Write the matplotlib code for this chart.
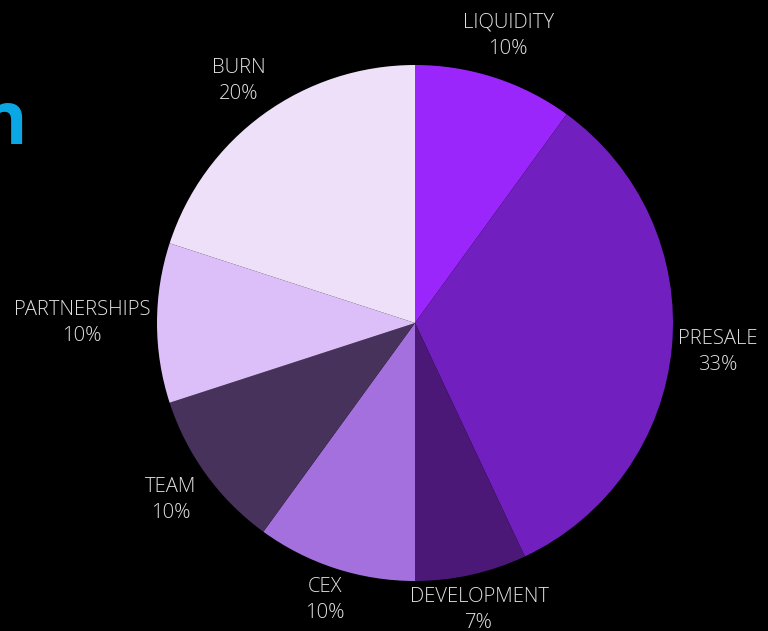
import matplotlib.pyplot as plt
import numpy as np

# token allocation, clockwise from the top
labels = ['LIQUIDITY', 'PRESALE', 'DEVELOPMENT', 'CEX', 'TEAM', 'PARTNERSHIPS', 'BURN']
shares = [10, 33, 7, 10, 10, 10, 20]
colors = ['#9b26fb', '#721fc0', '#4b1878', '#a470dd', '#47325c', '#dcbff8', '#efe0fa']
label_r = [1.17, 1.18, 1.14, 1.13, 1.17, 1.29, 1.16]

TEXT = '#e0e0e0'
BLUE = '#0ba6e4'

plt.rcParams['font.family'] = ['Open Sans', 'DejaVu Sans']

fig = plt.figure(figsize=(7.68, 6.31), dpi=100, facecolor='black')

# heading, mostly off the left edge (only the last letter shows)
fig.text(28 / 768, 1 - 143 / 631, 'Token Distribution', ha='right', va='baseline',
         fontsize=53, fontweight='bold', color=BLUE)

cx, cy, R = 415, 323, 258
ax = fig.add_axes([(cx - R) / 768, (631 - cy - R) / 631, 2 * R / 768, 2 * R / 631])
ax.set_facecolor('black')
wedges, _ = ax.pie(shares, colors=colors, startangle=90, counterclock=False,
                   radius=1, wedgeprops=dict(linewidth=0))
ax.set_xlim(-1, 1)
ax.set_ylim(-1, 1)
ax.set_aspect('equal')
ax.axis('off')

for w, lab, s, r in zip(wedges, labels, shares, label_r):
    ang = np.deg2rad((w.theta1 + w.theta2) / 2)
    ax.text(r * np.cos(ang), r * np.sin(ang), f'{lab}\n{s}%', ha='center', va='center',
            fontsize=14.6, fontweight='light', color=TEXT, linespacing=1.4, clip_on=False)

fig.savefig('out.png', dpi=100, facecolor='black')
